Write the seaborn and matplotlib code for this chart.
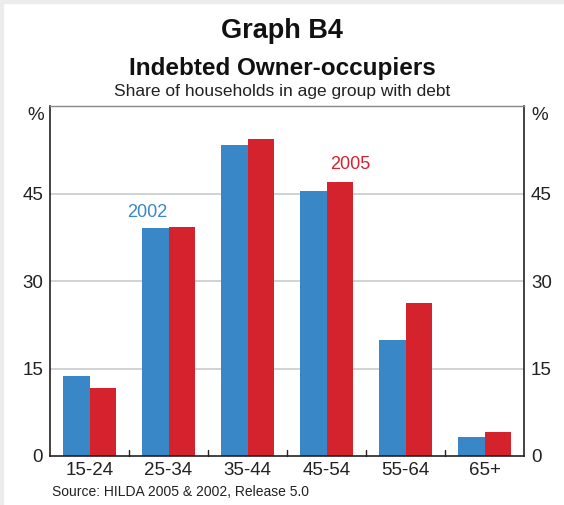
import pandas as pd
import matplotlib.pyplot as plt
import seaborn as sns

# Data
age_groups = ['15-24', '25-34', '35-44', '45-54', '55-64', '65+']
share_2002 = [13.8, 39.1, 53.4, 45.4, 19.9, 3.2]
share_2005 = [11.6, 39.3, 54.4, 46.9, 26.2, 4.1]
years = ['2002', '2005']
y_ticks = [0, 15, 30, 45]

df = pd.DataFrame({
    'age': age_groups * 2,
    'share': share_2002 + share_2005,
    'year': [years[0]] * len(age_groups) + [years[1]] * len(age_groups),
})

sns.set_style('white')
plt.rcParams['font.family'] = ['Liberation Sans', 'DejaVu Sans']

blue = '#3a87c8'
red = '#d5232e'

fig = plt.figure(figsize=(5.64, 5.05), dpi=100)
ax = fig.add_axes([50 / 564, 1 - 456 / 505, 474 / 564, 350 / 505])

sns.barplot(data=df, x='age', y='share', hue='year', palette=[blue, red],
            width=0.68, saturation=1, linewidth=0, ax=ax, legend=False)

ax.set_ylim(0, 60)
ax.set_xlim(-0.5, len(age_groups) - 0.5)
ax.set_yticks(y_ticks)
ax.set_yticklabels([str(t) for t in y_ticks], fontsize=13.5, color='#222222')
for t in y_ticks[1:]:
    ax.axhline(t, color='#c8ccd0', lw=1.2, zorder=0)
ax.set_axisbelow(True)
ax.set_xlabel('')
ax.set_ylabel('')
ax.tick_params(axis='y', length=0, pad=5)
ax.tick_params(axis='x', length=0, pad=4, labelsize=13.5, labelcolor='#222222')

# small ticks between categories on the baseline
for i in range(1, len(age_groups)):
    ax.plot([i - 0.5, i - 0.5], [0, 1.0], color='#222222', lw=1, clip_on=False)

for s in ['left', 'right', 'bottom']:
    ax.spines[s].set_color('#222222')
    ax.spines[s].set_linewidth(1.2)
ax.spines['top'].set_color('#888888')
ax.spines['top'].set_linewidth(1)

ax2 = ax.twinx()
ax2.set_ylim(0, 60)
ax2.set_yticks(y_ticks)
ax2.set_yticklabels([str(t) for t in y_ticks], fontsize=13.5, color='#222222')
ax2.tick_params(axis='y', length=0, pad=5)
for s in ax2.spines.values():
    s.set_visible(False)

# percent labels at the top of both axes
ax.text(-0.013, 58.4, '%', transform=ax.get_yaxis_transform(), ha='right', va='center',
        fontsize=13.5, color='#222222')
ax.text(1.015, 58.4, '%', transform=ax.get_yaxis_transform(), ha='left', va='center',
        fontsize=13.5, color='#222222')

# series labels
ax.text(0.73, 41.8, '2002', color=blue, fontsize=13, ha='center', va='center')
ax.text(3.3, 50.0, '2005', color=red, fontsize=13, ha='center', va='center')

fig.text(0.5, 1 - 31 / 505, 'Graph B4', ha='center', va='center',
         fontsize=19.5, fontweight='bold', color='#111111')
fig.text(0.5, 1 - 68 / 505, 'Indebted Owner-occupiers', ha='center', va='center',
         fontsize=17.5, fontweight='bold', color='#111111')
fig.text(0.5, 1 - 92 / 505, 'Share of households in age group with debt',
         ha='center', va='center', fontsize=12.5, color='#222222')
fig.text(52 / 564, 1 - 492 / 505, 'Source: HILDA 2005 & 2002, Release 5.0',
         ha='left', va='center', fontsize=10, color='#222222')

# thin grey page edge along the top and left
fig.patches.append(plt.Rectangle((0, 1 - 3 / 505), 1, 3 / 505, transform=fig.transFigure,
                                 color='#ececec', zorder=0))
fig.patches.append(plt.Rectangle((0, 0), 3 / 564, 1, transform=fig.transFigure,
                                 color='#ececec', zorder=0))

fig.savefig('out.png', dpi=100)
